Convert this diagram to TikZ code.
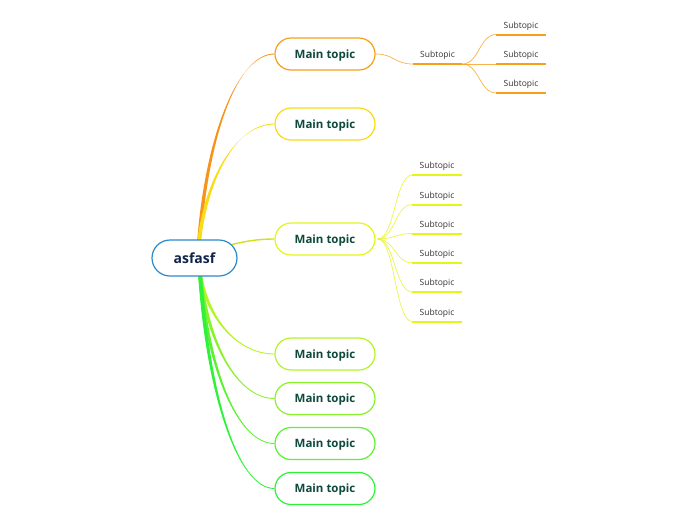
\documentclass[tikz,border=0pt]{standalone}
\usepackage{fontspec}
\setmainfont{Open Sans}
\usetikzlibrary{calc,backgrounds}
\definecolor{rootblue}{HTML}{2D89C8}
\definecolor{roottext}{HTML}{10244A}
\definecolor{mttext}{HTML}{0E4A3C}
\definecolor{subtext}{HTML}{333333}
\definecolor{cA}{HTML}{F6A01A}
\definecolor{cB}{HTML}{F7DC16}
\definecolor{cC}{HTML}{E4F51A}
\definecolor{cD}{HTML}{B5F526}
\definecolor{cE}{HTML}{8AF22A}
\definecolor{cF}{HTML}{5CF230}
\definecolor{cG}{HTML}{2EF23A}
\tikzset{
  rootbox/.style={draw=rootblue, line width=1.2pt, fill=white, rounded corners=18pt,
    minimum width=85pt, minimum height=36pt, inner sep=0pt, text=roottext,
    text height=10pt, text depth=0pt,
    font=\fontsize{14}{16}\selectfont\bfseries},
  mtbox/.style={draw=#1, line width=1.2pt, fill=white, rounded corners=16pt,
    minimum width=100pt, minimum height=32pt, inner sep=0pt, text=mttext,
    text height=8.6pt, text depth=0pt,
    font=\fontsize{11.5}{13}\selectfont\bfseries},
  subbox/.style={inner xsep=0pt, inner ysep=0pt, minimum width=49pt, anchor=base,
    text=subtext, font=\fontsize{8.5}{10}\selectfont},
  uline/.style={draw=#1, line width=2pt},
  subconn/.style={draw=#1, line width=0.7pt, opacity=0.8},
}
\newcommand\mbranch[3]{%
  \fill[#1] let \p1=(#2), \p2=(#3.west) in
    (\x1-1.9pt,\y1) .. controls (\x1+0.1*\x2-0.1*\x1-1.6pt, \y1+0.55*\y2-0.55*\y1)
      and (0.5*\x1+0.5*\x2, \y2-0.45pt) .. (\x2,\y2-0.45pt)
    -- (\x2,\y2+0.45pt) .. controls (0.5*\x1+0.5*\x2, \y2+0.45pt)
      and (\x1+0.1*\x2-0.1*\x1+1.6pt, \y1+0.55*\y2-0.55*\y1) .. (\x1+1.9pt,\y1) -- cycle;}
\newcommand\subnode[4]{% name, x, baseline y, color
  \node[subbox] (#1) at (#2,#3) {Subtopic};
  \coordinate (#1l) at ([yshift=-6.5pt]#1.base west);
  \coordinate (#1r) at ([yshift=-6.5pt]#1.base east);
  \draw[uline=#4] (#1l) -- (#1r);}
\newcommand\sconn[3]{% color, from, to
  \draw[subconn=#1] let \p1=(#2), \p2=(#3) in
    (\p1) .. controls (0.5*\x1+0.5*\x2,\y1) and (0.5*\x1+0.5*\x2,\y2) .. (\p2);}
\begin{document}
\begin{tikzpicture}[x=1pt,y=-1pt]
\useasboundingbox (0,0) rectangle (696,520);
\node[rootbox] (root) at (194.5,258) {asfasf};
\node[mtbox=cA] (m1) at (325,54) {Main topic};
\node[mtbox=cB] (m2) at (325,124) {Main topic};
\node[mtbox=cC] (m3) at (325,239) {Main topic};
\node[mtbox=cD] (m4) at (325,354) {Main topic};
\node[mtbox=cE] (m5) at (325,398.5) {Main topic};
\node[mtbox=cF] (m6) at (325,443.5) {Main topic};
\node[mtbox=cG] (m7) at (325,488.5) {Main topic};
\coordinate (rt) at (199,242);
\coordinate (rr) at (222,247);
\coordinate (rb) at (200,274);
\begin{scope}[on background layer]
  \mbranch{cA!92!red}{rt}{m1}
  \mbranch{cB}{rt}{m2}
  \draw[cC!92!black, line width=1.4pt] (rr) .. controls (245,241) and (258,239) .. (m3.west);
  \mbranch{cD}{rb}{m4}
  \mbranch{cE}{rb}{m5}
  \mbranch{cF}{rb}{m6}
  \mbranch{cG}{rb}{m7}
\end{scope}
% subtopics of topic 1
\subnode{a}{437.5}{57.5}{cA}
\subnode{a1}{521}{28}{cA}
\subnode{a2}{521}{57.5}{cA}
\subnode{a3}{521}{86.5}{cA}
\sconn{cA}{m1.east}{al}
\sconn{cA}{ar}{a1l}
\sconn{cA}{ar}{a2l}
\sconn{cA}{ar}{a3l}
% subtopics of topic 3
\coordinate (m3o) at ([xshift=2pt]m3.east);
\subnode{b1}{437}{168.5}{cC}
\subnode{b2}{437}{198}{cC}
\subnode{b3}{437}{227}{cC}
\subnode{b4}{437}{256.5}{cC}
\subnode{b5}{437}{285.5}{cC}
\subnode{b6}{437}{315}{cC}
\foreach \s in {b1,b2,b3,b4,b5,b6}{\sconn{cC}{m3o}{\s l}}
\end{tikzpicture}
\end{document}
